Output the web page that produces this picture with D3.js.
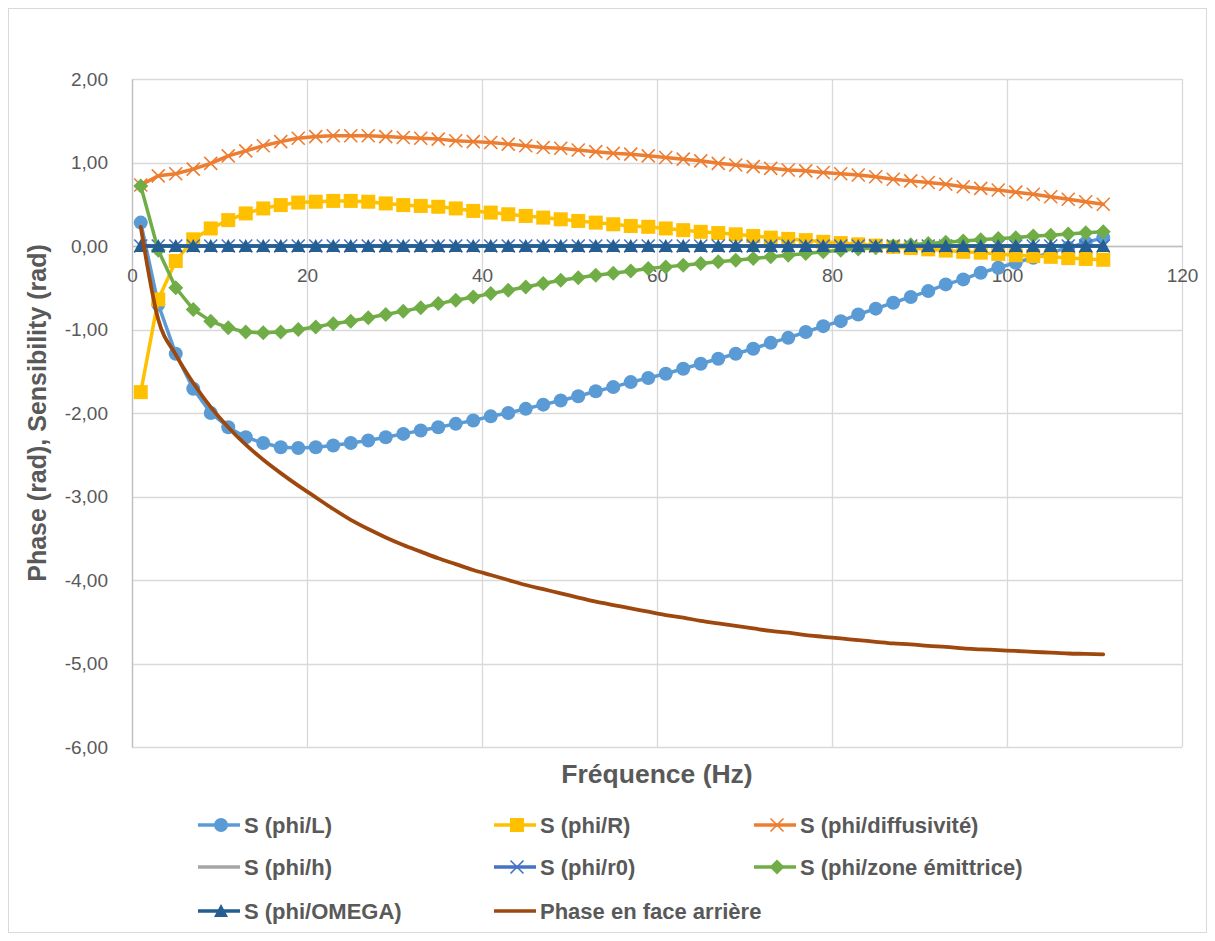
<!DOCTYPE html>
<html><head><meta charset="utf-8">
<script src="https://cdn.jsdelivr.net/npm/d3@7"></script>
<style>
html,body{margin:0;padding:0;background:#fff;}
svg text{font-family:"Liberation Sans",Arial,sans-serif;}
</style></head>
<body><svg id="c" width="1215" height="941"></svg>
<script>
const freq = [1,3,5,7,9,11,13,15,17,19,21,23,25,27,29,31,33,35,37,39,41,43,45,47,49,51,53,55,57,59,61,63,65,67,69,71,73,75,77,79,81,83,85,87,89,91,93,95,97,99,101,103,105,107,109,111];
const sL = [0.28,-0.70,-1.29,-1.71,-2.00,-2.17,-2.29,-2.36,-2.41,-2.42,-2.41,-2.39,-2.36,-2.33,-2.29,-2.25,-2.21,-2.17,-2.13,-2.09,-2.04,-2.00,-1.95,-1.90,-1.85,-1.80,-1.74,-1.69,-1.63,-1.58,-1.53,-1.47,-1.41,-1.35,-1.29,-1.23,-1.16,-1.10,-1.03,-0.96,-0.90,-0.82,-0.75,-0.68,-0.61,-0.54,-0.46,-0.40,-0.32,-0.26,-0.20,-0.14,-0.08,-0.02,0.04,0.10];
const sR = [-1.75,-0.64,-0.18,0.08,0.21,0.31,0.39,0.45,0.49,0.52,0.53,0.54,0.54,0.53,0.51,0.49,0.48,0.47,0.45,0.42,0.40,0.38,0.36,0.34,0.32,0.30,0.28,0.26,0.24,0.23,0.21,0.19,0.17,0.155,0.14,0.12,0.10,0.085,0.07,0.05,0.035,0.02,0.005,-0.01,-0.025,-0.04,-0.055,-0.07,-0.08,-0.095,-0.11,-0.12,-0.13,-0.145,-0.155,-0.165];
const sDiff = [0.73,0.84,0.865,0.92,0.99,1.08,1.14,1.20,1.25,1.29,1.31,1.32,1.32,1.32,1.31,1.30,1.29,1.28,1.26,1.25,1.24,1.22,1.20,1.18,1.17,1.15,1.13,1.11,1.10,1.08,1.06,1.04,1.02,0.99,0.97,0.95,0.93,0.91,0.90,0.88,0.865,0.85,0.83,0.80,0.78,0.76,0.74,0.71,0.69,0.67,0.645,0.62,0.59,0.56,0.53,0.50];
const sH = [0,0,0,0,0,0,0,0,0,0,0,0,0,0,0,0,0,0,0,0,0,0,0,0,0,0,0,0,0,0,0,0,0,0,0,0,0,0,0,0,0,0,0,0,0,0,0,0,0,0,0,0,0,0,0,0];
const sR0 = [0,0,0,0,0,0,0,0,0,0,0,0,0,0,0,0,0,0,0,0,0,0,0,0,0,0,0,0,0,0,0,0,0,0,0,0,0,0,0,0,0,0,0,0,0,0,0,0,0,0,0,0,0,0,0,0];
const sZone = [0.72,-0.05,-0.50,-0.76,-0.90,-0.98,-1.03,-1.04,-1.03,-1.00,-0.97,-0.93,-0.90,-0.86,-0.82,-0.78,-0.74,-0.69,-0.65,-0.61,-0.57,-0.53,-0.49,-0.45,-0.41,-0.38,-0.35,-0.325,-0.30,-0.27,-0.25,-0.23,-0.21,-0.19,-0.17,-0.15,-0.13,-0.11,-0.09,-0.07,-0.05,-0.035,-0.02,0.0,0.015,0.03,0.045,0.06,0.075,0.09,0.10,0.12,0.13,0.145,0.16,0.17];
const sOmega = [0,0,0,0,0,0,0,0,0,0,0,0,0,0,0,0,0,0,0,0,0,0,0,0,0,0,0,0,0,0,0,0,0,0,0,0,0,0,0,0,0,0,0,0,0,0,0,0,0,0,0,0,0,0,0,0];
const phase = [0.23,-0.88,-1.30,-1.64,-1.93,-2.17,-2.38,-2.56,-2.72,-2.87,-3.01,-3.15,-3.28,-3.39,-3.49,-3.58,-3.66,-3.74,-3.81,-3.88,-3.94,-4.00,-4.06,-4.11,-4.16,-4.21,-4.26,-4.30,-4.34,-4.38,-4.42,-4.45,-4.49,-4.52,-4.55,-4.58,-4.61,-4.63,-4.66,-4.68,-4.70,-4.72,-4.74,-4.76,-4.77,-4.79,-4.80,-4.82,-4.83,-4.84,-4.85,-4.86,-4.87,-4.88,-4.885,-4.89];

const seriesNames = ["S (phi/L)","S (phi/R)","S (phi/diffusivité)","S (phi/h)","S (phi/r0)","S (phi/zone émittrice)","S (phi/OMEGA)","Phase en face arrière"];
const seriesValues = [sL,sR,sDiff,sH,sR0,sZone,sOmega,phase];
const seriesColors = ["#5B9BD5","#FFC000","#ED7D31","#A5A5A5","#4472C4","#70AD47","#255E91","#9E480E"];
const seriesMarkers = ["circle","square","x","none","x","diamond","triangle","none"];
const xTicks = [0,20,40,60,80,100,120];
const yTicks = [2,1,0,-1,-2,-3,-4,-5,-6];

const svg = d3.select("#c");
const W = 1215, H = 941;
const plot = {l:132, r:1182, t:79, b:747};

svg.append("rect").attr("x",8.5).attr("y",8.5).attr("width",W-17).attr("height",H-17)
  .attr("fill","#fff").attr("stroke","#D9D9D9").attr("stroke-width",1);

const x = d3.scaleLinear().domain([0,120]).range([plot.l, plot.r]);
const y = d3.scaleLinear().domain([-6,2]).range([plot.b, plot.t]);

// gridlines
const g = svg.append("g");
g.selectAll("line.h").data(yTicks).join("line")
  .attr("x1",plot.l).attr("x2",plot.r)
  .attr("y1",d=>Math.round(y(d))+0.5).attr("y2",d=>Math.round(y(d))+0.5)
  .attr("stroke","#D9D9D9").attr("stroke-width",1.3);
g.selectAll("line.v").data(xTicks).join("line")
  .attr("y1",plot.t).attr("y2",plot.b)
  .attr("x1",d=>Math.round(x(d))+0.5).attr("x2",d=>Math.round(x(d))+0.5)
  .attr("stroke","#D9D9D9").attr("stroke-width",1.3);

const fmtY = d => (d<0?"-":"") + d3.format(".2f")(Math.abs(d)).replace(".",",");

// y axis labels
const yAxis = d3.axisLeft(y).tickValues(yTicks).tickSize(0).tickPadding(24).tickFormat(fmtY);
const ya = svg.append("g").attr("transform",`translate(${plot.l},0)`).call(yAxis);
ya.select(".domain").attr("stroke","#BFBFBF").attr("stroke-width",1.3);
ya.selectAll("text").attr("fill","#595959").style("font-size","19px").style("font-family","'Liberation Sans',Arial,sans-serif");

// x axis at y=0
const xAxis = d3.axisBottom(x).tickValues(xTicks).tickSize(0).tickPadding(23).tickFormat(d=>String(d));
const xa = svg.append("g").attr("transform",`translate(0,${y(0)})`).call(xAxis);
xa.select(".domain").attr("stroke","#BFBFBF").attr("stroke-width",1.5);
xa.selectAll("text").attr("fill","#595959").style("font-size","19px").style("font-family","'Liberation Sans',Arial,sans-serif");

// titles
svg.append("text").attr("x",(plot.l+plot.r)/2).attr("y",783).attr("text-anchor","middle")
  .attr("fill","#595959").style("font-size","26.5px").style("font-weight","bold").text("Fréquence (Hz)");
svg.append("text").attr("transform",`translate(46,${(plot.t+plot.b)/2}) rotate(-90)`).attr("text-anchor","middle")
  .attr("fill","#595959").style("font-size","25px").style("font-weight","bold").text("Phase (rad), Sensibility (rad)");

function drawMarker(sel, type, color, cx, cy){
  if(type==="circle"){
    sel.append("circle").attr("cx",cx).attr("cy",cy).attr("r",7).attr("fill",color);
  } else if(type==="square"){
    sel.append("rect").attr("x",cx-7).attr("y",cy-7).attr("width",14).attr("height",14).attr("fill",color);
  } else if(type==="diamond"){
    sel.append("path").attr("d",`M${cx},${cy-7.5}L${cx+7.5},${cy}L${cx},${cy+7.5}L${cx-7.5},${cy}Z`).attr("fill",color);
  } else if(type==="triangle"){
    sel.append("path").attr("d",`M${cx},${cy-7}L${cx+7},${cy+6}L${cx-7},${cy+6}Z`).attr("fill",color);
  } else if(type==="x"){
    sel.append("path").attr("d",`M${cx-6.5},${cy-6.5}L${cx+6.5},${cy+6.5}M${cx-6.5},${cy+6.5}L${cx+6.5},${cy-6.5}`)
      .attr("stroke",color).attr("stroke-width",1.6).attr("fill","none");
  }
}

const line = d3.line().x(d=>x(d[0])).y(d=>y(d[1]));
const smoothLine = d3.line().x(d=>x(d[0])).y(d=>y(d[1])).curve(d3.curveMonotoneX);
seriesValues.forEach((vals,i)=>{
  const pts = freq.map((f,j)=>[f,vals[j]]);
  const sg = svg.append("g");
  sg.append("path").attr("d",(i===7?smoothLine:line)(pts)).attr("fill","none")
    .attr("stroke",seriesColors[i]).attr("stroke-width",i===7?3.8:3.5).attr("stroke-linejoin","round").attr("stroke-linecap","round");
  if(seriesMarkers[i]!=="none"){
    pts.forEach(p=>drawMarker(sg, seriesMarkers[i], seriesColors[i], x(p[0]), y(p[1])));
  }
});

// legend
const colX = [244,540,800];
const rowY = [825,867,911];
seriesNames.forEach((name,i)=>{
  const cx = colX[i%3], cy = rowY[Math.floor(i/3)];
  const lg = svg.append("g");
  lg.append("line").attr("x1",cx-46).attr("x2",cx-4).attr("y1",cy).attr("y2",cy)
    .attr("stroke",seriesColors[i]).attr("stroke-width",3.5);
  if(seriesMarkers[i]!=="none") drawMarker(lg, seriesMarkers[i], seriesColors[i], cx-23, cy);
  lg.append("text").attr("x",cx).attr("y",cy).attr("dy","0.35em").attr("fill","#595959")
    .style("font-size","22px").style("font-weight","bold").text(name);
});
</script></body></html>
